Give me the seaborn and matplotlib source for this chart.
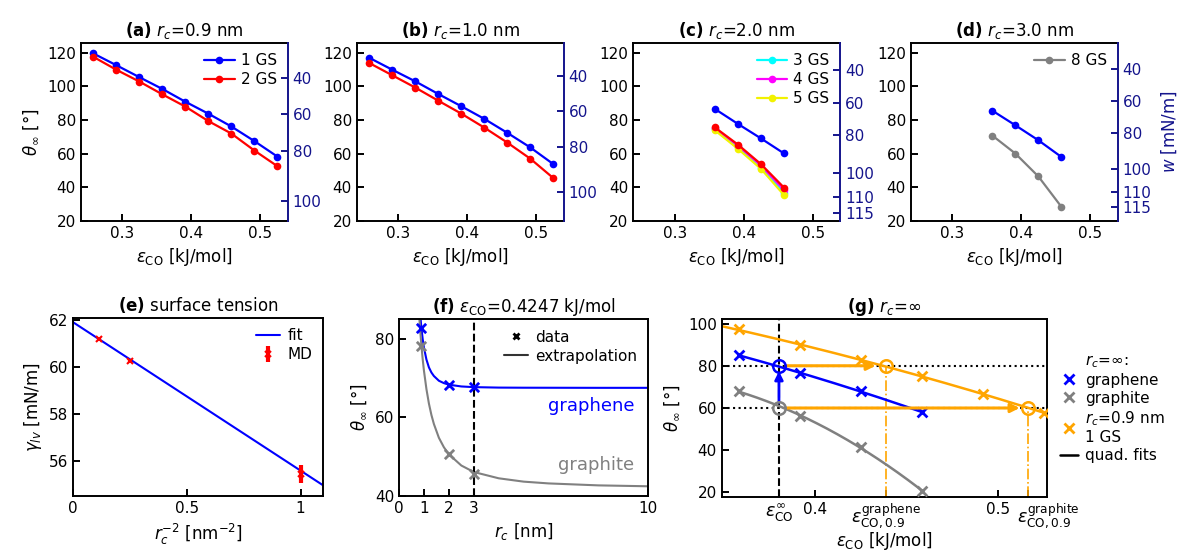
import numpy as np
import matplotlib
matplotlib.use("Agg")
import matplotlib.pyplot as plt
import seaborn as sns
from matplotlib.lines import Line2D
from matplotlib.transforms import ScaledTranslation

sns.set_theme(style="ticks")
plt.rcParams['font.family'] = ['DejaVu Sans']
plt.rcParams['mathtext.fontset'] = 'dejavusans'
plt.rcParams.update({
    'xtick.direction': 'in', 'ytick.direction': 'in',
    'axes.linewidth': 1.4, 'xtick.major.width': 1.4, 'ytick.major.width': 1.4,
    'xtick.major.size': 5, 'ytick.major.size': 5,
    'font.size': 11, 'xtick.labelsize': 11, 'ytick.labelsize': 11,
    'axes.labelsize': 12, 'axes.titlesize': 12,
    'axes.edgecolor': 'black', 'xtick.color': 'black', 'ytick.color': 'black',
    'axes.labelcolor': 'black', 'text.color': 'black', 'legend.fontsize': 11,
})

# ---------------- data ----------------
eps_long = [0.2583, 0.2917, 0.3250, 0.3583, 0.3917, 0.4250, 0.4583, 0.4917, 0.5250]
eps_short = [0.3583, 0.3917, 0.4250, 0.4583]

theta_a_1gs = [119.6, 112.6, 105.5, 98.5, 90.9, 83.8, 76.2, 67.5, 58.3]
theta_a_2gs = [117.6, 109.9, 102.9, 95.3, 88.0, 79.4, 72.0, 61.9, 52.6]
theta_b_1gs = [117.0, 109.9, 103.0, 95.5, 88.2, 80.7, 72.4, 63.7, 53.8]
theta_b_2gs = [113.9, 106.6, 99.3, 91.5, 83.8, 75.5, 66.6, 57.0, 45.5]
theta_c_1gs = [86.6, 77.7, 69.1, 60.2]
theta_c_2gs = [75.6, 65.4, 53.8, 39.9]
theta_c_3gs = [74.7, 63.7, 51.8, 36.9]
theta_c_4gs = [75.2, 64.8, 53.0, 38.5]
theta_c_5gs = [73.9, 62.9, 51.0, 35.5]
theta_d_1gs = [85.6, 76.9, 68.0, 58.1]
theta_d_8gs = [70.8, 60.1, 46.5, 28.5]

# surface tension used for the work-of-adhesion axis of each top panel
gamma_top = [54.1, 55.6, 60.3, 61.2]
w_ticks_ab = [40, 60, 80, 100]
w_ticks_cd = [40, 60, 80, 100, 110, 115]

# (e) surface tension
inv_rc2 = [0.111, 0.25, 1.0]
gamma_md = [61.2, 60.27, 55.45]
gamma_err = [0.06, 0.06, 0.38]
fit_x = [0.0, 1.1]
fit_y = [61.9, 54.95]

# (f) extrapolation
rc_data = [0.9, 2.0, 3.0]
graphene_f = [82.6, 68.3, 67.6]
graphite_f = [78.2, 50.6, 45.5]
rc_curve = [0.80, 0.85, 0.90, 0.95, 1.0, 1.1, 1.2, 1.3, 1.4, 1.6, 1.8, 2.0, 2.5, 3.0, 4.0, 5.0, 6.0, 8.0, 10.0]
graphene_curve = [90.8, 86.1, 82.6, 79.9, 77.75, 74.7, 72.7, 71.4, 70.5, 69.3, 68.7, 68.3, 67.85, 67.68, 67.56, 67.53, 67.52, 67.5, 67.5]
graphite_curve = [86.7, 82.1, 78.15, 74.8, 71.9, 67.2, 63.5, 60.6, 58.3, 54.8, 52.4, 50.6, 47.75, 46.1, 44.5, 43.65, 43.2, 42.7, 42.47]

# (g) r_c = infinity
eps_g = [0.3583, 0.3917, 0.4250, 0.4583]
graphene_g = [85.0, 76.6, 67.9, 58.1]
graphite_g = [67.9, 56.2, 41.5, 20.9]
eps_g09 = [0.3583, 0.3917, 0.4250, 0.4583, 0.4917, 0.5250]
gs1_g09 = [97.2, 89.7, 82.6, 75.3, 66.8, 57.6]
eps_inf = 0.3803
eps_graphene = 0.4387
eps_graphite = 0.5164
theta_graphene_target = 80.0
theta_graphite_target = 60.0

NAVY = '#14148c'

# ---------------- layout ----------------
fig = plt.figure(figsize=(11.86, 5.52), dpi=100)
W, H = 1186.0, 552.0


def add_ax(l, t, r, b):
    return fig.add_axes([l / W, 1 - b / H, (r - l) / W, (b - t) / H])


eps_label = r"$\epsilon_{\mathrm{CO}}$ [kJ/mol]"
theta_label = r"$\theta_{\infty}$ [°]"

top_lefts = [80.7, 356.7, 633.3, 910.7]
titles = [r"$\mathbf{(a)}$ $r_c$=0.9 nm", r"$\mathbf{(b)}$ $r_c$=1.0 nm",
          r"$\mathbf{(c)}$ $r_c$=2.0 nm", r"$\mathbf{(d)}$ $r_c$=3.0 nm"]

series_top = [
    [(eps_long, theta_a_1gs, 'blue', '1 GS'), (eps_long, theta_a_2gs, 'red', '2 GS')],
    [(eps_long, theta_b_1gs, 'blue', None), (eps_long, theta_b_2gs, 'red', None)],
    [(eps_short, theta_c_3gs, '#00ffff', '3 GS'), (eps_short, theta_c_4gs, '#ff00ff', '4 GS'),
     (eps_short, theta_c_5gs, '#f2f200', '5 GS'),
     (eps_short, theta_c_1gs, 'blue', None), (eps_short, theta_c_2gs, 'red', None)],
    [(eps_short, theta_d_8gs, 'gray', '8 GS'), (eps_short, theta_d_1gs, 'blue', None)],
]

MS = 5.5
for i in range(4):
    l = top_lefts[i]
    ax = add_ax(l, 42.7, l + 207, 221)
    handles = []
    for x, y, c, lab in series_top[i]:
        sns.lineplot(x=x, y=y, ax=ax, color=c, marker='o', markersize=MS,
                     markeredgewidth=0, linewidth=1.6, legend=False)
        if lab is not None:
            handles.append(Line2D([], [], color=c, marker='o', markersize=MS,
                                  markeredgewidth=0, linewidth=1.6, label=lab))
    ax.set_xlim(0.24, 0.54)
    ax.set_ylim(20, 126)
    ax.set_xticks([0.3, 0.4, 0.5])
    ax.set_xticklabels(['0.3', '0.4', '0.5'])
    ax.set_yticks([20, 40, 60, 80, 100, 120])
    ax.set_xlabel(eps_label)
    ax.set_ylabel(theta_label if i == 0 else "")
    ax.set_title(titles[i], pad=5)
    ax.spines['right'].set_visible(False)
    if handles:
        ax.legend(handles=handles, loc='upper right', frameon=False,
                  handlelength=2.0, handletextpad=0.4, labelspacing=0.25,
                  borderaxespad=0.3)
    ax2 = ax.twinx()
    ax2.set_ylim(20, 126)
    wt = w_ticks_ab if i < 2 else w_ticks_cd
    g = gamma_top[i]
    pos = np.degrees(np.arccos(np.array(wt, dtype=float) / g - 1.0))
    ax2.set_yticks(pos)
    ax2.set_yticklabels([str(v) for v in wt])
    ax2.tick_params(axis='y', colors=NAVY, direction='in', width=1.4, length=5)
    for s in ['left', 'top', 'bottom']:
        ax2.spines[s].set_visible(False)
    ax2.spines['right'].set_color(NAVY)
    ax2.spines['right'].set_linewidth(1.4)
    if i == 3:
        ax2.set_ylabel(r"$w$ [mN/m]", color=NAVY, labelpad=6)

# ---------------- (e) ----------------
ax = add_ax(73.3, 317.7, 323.3, 496)
sns.lineplot(x=fit_x, y=fit_y, ax=ax, color='blue', linewidth=1.5, legend=False)
eb = ax.errorbar(inv_rc2, gamma_md, yerr=gamma_err, fmt='x', color='red', ms=4,
                 mew=1.5, elinewidth=3, capsize=0, zorder=3)
ax.set_xlim(0, 1.1)
ax.set_ylim(54.5, 62.1)
ax.set_xticks([0, 0.5, 1])
ax.set_xticklabels(['0', '0.5', '1'])
ax.set_yticks([56, 58, 60, 62])
ax.set_xlabel(r"$r_c^{-2}$ [nm$^{-2}$]")
ax.set_ylabel(r"$\gamma_{lv}$ [mN/m]")
ax.set_title(r"$\mathbf{(e)}$ surface tension", pad=5)
ax.legend(handles=[Line2D([], [], color='blue', lw=1.5, label='fit'), eb],
          labels=['fit', 'MD'], loc='upper right', frameon=False,
          handlelength=1.6, handletextpad=0.5, labelspacing=0.25, borderaxespad=0.3)

# ---------------- (f) ----------------
ax = add_ax(399, 319, 648.3, 496)
sns.lineplot(x=rc_curve, y=graphene_curve, ax=ax, color='blue', linewidth=1.5, legend=False)
sns.lineplot(x=rc_curve, y=graphite_curve, ax=ax, color='gray', linewidth=1.5, legend=False)
sns.scatterplot(x=rc_data, y=graphene_f, ax=ax, color='blue', marker='x', s=45,
                linewidth=2, legend=False, zorder=3)
sns.scatterplot(x=rc_data, y=graphite_f, ax=ax, color='gray', marker='x', s=45,
                linewidth=2, legend=False, zorder=3)
ax.axvline(3, color='black', ls='--', lw=1.5)
ax.set_xlim(0, 10)
ax.set_ylim(40, 85)
ax.set_xticks([0, 1, 2, 3, 10])
ax.set_yticks([40, 60, 80])
ax.text(9.45, 63.0, 'graphene', color='blue', fontsize=13, ha='right', va='center')
ax.text(9.45, 47.8, 'graphite', color='gray', fontsize=13, ha='right', va='center')
ax.set_xlabel(r"$r_c$ [nm]")
ax.set_ylabel(theta_label)
ax.set_title(r"$\mathbf{(f)}$ $\epsilon_{\mathrm{CO}}$=0.4247 kJ/mol", pad=5)
ax.legend(handles=[Line2D([], [], color='black', marker='x', ls='none', ms=5, mew=2, label='data'),
                   Line2D([], [], color='#333333', lw=1.5, label='extrapolation')],
          loc='upper right', frameon=False, handlelength=1.6, handletextpad=0.5,
          labelspacing=0.25, borderaxespad=0.3)

# ---------------- (g) ----------------
ax = add_ax(721.7, 319.3, 1047.3, 496.7)
xlo, xhi = 0.349, 0.527
ylo, yhi = 18, 102
ax.axhline(theta_graphene_target, color='black', ls=':', lw=1.5, zorder=1)
ax.axhline(theta_graphite_target, color='black', ls=':', lw=1.5, zorder=1)
ax.axvline(eps_inf, color='black', ls='--', lw=1.5, zorder=1)
ax.vlines([eps_graphene], ylo, theta_graphene_target, colors='orange', linestyles='-.', lw=1.2, zorder=1)
ax.vlines([eps_graphite], ylo, theta_graphite_target, colors='orange', linestyles='-.', lw=1.2, zorder=1)

grid_o = np.linspace(xlo, xhi, 200)
grid_s = np.linspace(eps_g[0], eps_g[-1], 200)
fit_o = np.polyval(np.polyfit(eps_g09, gs1_g09, 2), grid_o)
fit_b = np.polyval(np.polyfit(eps_g, graphene_g, 2), grid_s)
fit_k = np.polyval(np.polyfit(eps_g, graphite_g, 2), grid_s)
sns.lineplot(x=grid_o, y=fit_o, ax=ax, color='orange', lw=1.8, legend=False)
sns.lineplot(x=grid_s, y=fit_b, ax=ax, color='blue', lw=1.8, legend=False)
sns.lineplot(x=grid_s, y=fit_k, ax=ax, color='gray', lw=1.8, legend=False)
sns.scatterplot(x=eps_g09, y=gs1_g09, ax=ax, color='orange', marker='x', s=50, linewidth=2, legend=False, zorder=3)
sns.scatterplot(x=eps_g, y=graphene_g, ax=ax, color='blue', marker='x', s=50, linewidth=2, legend=False, zorder=3)
sns.scatterplot(x=eps_g, y=graphite_g, ax=ax, color='gray', marker='x', s=50, linewidth=2, legend=False, zorder=3)

# arrows
arr_o = dict(arrowstyle='-|>', color='orange', lw=2.2, mutation_scale=13, shrinkA=0, shrinkB=0)
ax.annotate('', xy=(eps_graphene - 0.0055, theta_graphene_target),
            xytext=(eps_inf + 0.004, theta_graphene_target), arrowprops=arr_o, zorder=4)
ax.annotate('', xy=(eps_graphite - 0.0045, theta_graphite_target),
            xytext=(eps_inf + 0.004, theta_graphite_target), arrowprops=arr_o, zorder=4)
ax.annotate('', xy=(eps_inf, theta_graphene_target - 2.6),
            xytext=(eps_inf, theta_graphite_target + 2.6),
            arrowprops=dict(arrowstyle='-|>', color='blue', lw=2.0, mutation_scale=12,
                            shrinkA=0, shrinkB=0), zorder=4)
# circles
ax.plot([eps_inf], [theta_graphene_target], 'o', mfc='none', mec='blue', ms=9, mew=1.8, zorder=5)
ax.plot([eps_inf], [theta_graphite_target], 'o', mfc='none', mec='gray', ms=9, mew=1.8, zorder=5)
ax.plot([eps_graphene], [theta_graphene_target], 'o', mfc='none', mec='orange', ms=9, mew=1.8, zorder=5)
ax.plot([eps_graphite], [theta_graphite_target], 'o', mfc='none', mec='orange', ms=9, mew=1.8, zorder=5)

ax.set_xlim(xlo, xhi)
ax.set_ylim(ylo, yhi)
ax.set_xticks([eps_inf, 0.4, eps_graphene, 0.5, eps_graphite])
ax.set_xticklabels([r"$\epsilon_{\mathrm{CO}}^{\infty}$", "0.4",
                    r"$\epsilon_{\mathrm{CO},0.9}^{\mathrm{graphene}}$", "0.5",
                    r"$\epsilon_{\mathrm{CO},0.9}^{\mathrm{graphite}}$"])
tls = ax.get_xticklabels()
for k in (0, 2, 4):
    tls[k].set_fontsize(12.5)
tls[4].set_transform(tls[4].get_transform() + ScaledTranslation(0.2, 0, fig.dpi_scale_trans))
ax.set_yticks([20, 40, 60, 80, 100])
ax.set_xlabel(eps_label, labelpad=0)
ax.set_ylabel(theta_label)
ax.set_title(r"$\mathbf{(g)}$ $r_c$=∞", pad=5)
hd = [Line2D([], [], ls='none', label=r"$r_c$=∞:"),
      Line2D([], [], color='blue', marker='x', ls='none', ms=7, mew=2, label='graphene'),
      Line2D([], [], color='gray', marker='x', ls='none', ms=7, mew=2, label='graphite'),
      Line2D([], [], color='orange', marker='x', ls='none', ms=7, mew=2, label="$r_c$=0.9 nm\n1 GS"),
      Line2D([], [], color='black', lw=1.8, label='quad. fits')]
ax.legend(handles=hd, loc='center left', bbox_to_anchor=(1.0, 0.5), frameon=False,
          handlelength=1.2, handletextpad=0.5, labelspacing=0.2, borderaxespad=0.4)

fig.savefig('out.png', dpi=100)
